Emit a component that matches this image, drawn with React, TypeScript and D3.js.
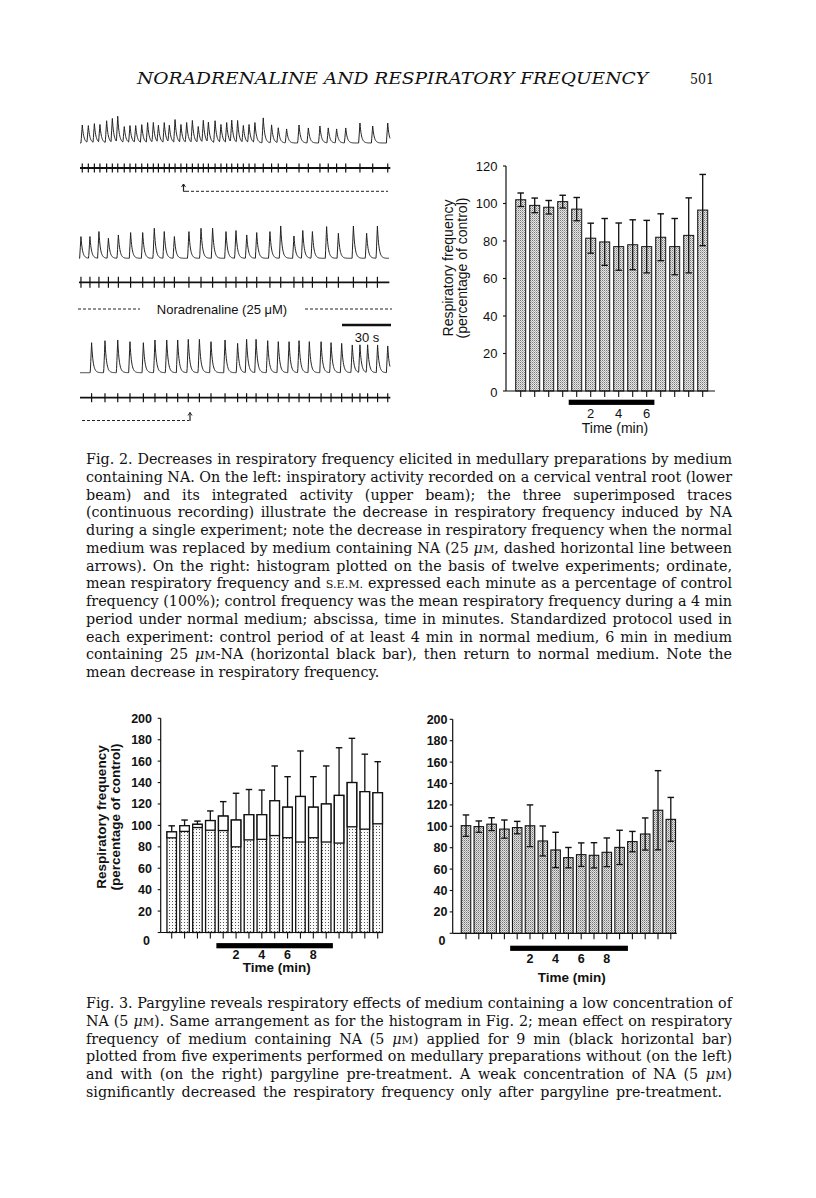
import React, { useLayoutEffect, useRef, useState } from 'react';
import * as d3 from 'd3';

// ---------- DATA ----------
// Fig. 2 histogram (12 experiments), one bar per minute, time = index - 3
const fig2Means = [102, 99, 98, 101, 97, 81.5, 79.5, 77, 78, 77, 82, 77, 83, 96.5];
const fig2Sems = [3.6, 3.9, 3.6, 3.4, 6.2, 8, 12.5, 12.6, 13.3, 14, 12.5, 15, 20, 19];
const fig2YTicks = [0, 20, 40, 60, 80, 100, 120];
const fig2TimeLabels = [2, 4, 6];
const fig2NA = [0.43, 6.55];

// Fig. 3 left (without pargyline)
const fig3LeftMeans = [94, 99.7, 101, 104.5, 108.7, 105, 110, 110, 123, 117, 127, 117, 120, 128, 140, 131.5, 130.5];
const fig3LeftSems = [5.6, 5.3, 3, 9, 13.5, 25, 23.5, 23, 32.5, 28.5, 42.5, 28.5, 35.5, 44.5, 41.3, 35, 29];
// Fig. 3 right (with pargyline)
const fig3RightMeans = [100.6, 99.7, 102, 97.4, 98.8, 100.5, 86.3, 77.9, 70.7, 73.5, 72.9, 75.7, 80.3, 85.7, 92.8, 115, 106.5];
const fig3RightSems = [10, 5.3, 6, 8.5, 5.8, 19.5, 14, 16.5, 9.5, 11, 11.8, 13.4, 16, 9.5, 15, 37, 20.5];
const fig3YTicks = [0, 20, 40, 60, 80, 100, 120, 140, 160, 180, 200];
const fig3TimeLabels = [2, 4, 6, 8];
const fig3LeftNA = [0.47, 9.52];
const fig3RightNA = [0.45, 9.65];

// Recordings: burst times (s) and integrated amplitudes
const trace1Times = [1.4, 5.1, 8.8, 12.2, 16.3, 19.8, 23.1, 27.1, 30.6, 34.1, 37.8, 41.4, 44.9, 48.0, 51.6, 54.7, 58.2, 61.8, 65.3, 68.8, 72.4, 75.5, 78.6, 82.7, 86.3, 89.8, 92.9, 96.5, 100.0, 103.5, 107.1, 112.2, 117.3, 121.4, 126.5, 134.1, 139.8, 146.9, 152.0, 157.1, 162.7, 171.4, 179.2, 188.4];
const trace1Amps = [18, 17, 19, 18, 22, 24, 26, 16, 17, 17, 18, 20, 20, 17, 20, 17, 23, 18, 20, 22, 16, 22, 20, 22, 18, 20, 22, 22, 17, 18, 20, 25, 18, 15, 14, 18, 15, 17, 15, 14, 15, 20, 17, 20];
const trace2Times = [1.2, 6.7, 12.2, 18.0, 24.1, 31.6, 39.0, 46.1, 52.2, 58.4, 67.3, 74.7, 81.8, 90.0, 96.1, 102.7, 108.8, 116.9, 123.5, 131.6, 137.0, 142.9, 151.6, 158.8, 168.0, 176.1, 182.7];
const trace2Amps = [21.7, 21.7, 26.7, 20, 23.3, 25.7, 25.7, 30, 26.7, 21.7, 26.7, 30, 30, 26.7, 27.7, 23.3, 25.7, 26.7, 32.3, 22.3, 27.7, 26.7, 31.7, 25, 32.3, 25, 32.3];
const trace3Times = [7.1, 15.3, 23.1, 30.6, 38.8, 45.9, 53.1, 59.8, 66.3, 73.1, 80.2, 88.8, 96.5, 102.0, 107.8, 114.9, 121.4, 128.0, 134.1, 140.4, 147.6, 153.7, 160.2, 166.7, 171.4, 176.1, 182.2, 188.4];
const trace3Amps = [30, 32, 32.7, 31, 30, 32.7, 32.7, 32.7, 33.3, 33.3, 31, 32.7, 29.3, 33.3, 33.3, 32, 31, 31, 32, 31, 31, 30, 29.3, 27.7, 27.7, 27.7, 27.7, 26.7];
const scaleBarSeconds = 30;

// Texts
const headerTitle = 'NORADRENALINE AND RESPIRATORY FREQUENCY';
const pageNumber = '501';
const fig2Caption = [
  'Fig. 2. Decreases in respiratory frequency elicited in medullary preparations by medium',
  'containing NA. On the left: inspiratory activity recorded on a cervical ventral root (lower',
  'beam) and its integrated activity (upper beam); the three superimposed traces',
  '(continuous recording) illustrate the decrease in respiratory frequency induced by NA',
  'during a single experiment; note the decrease in respiratory frequency when the normal',
  'medium was replaced by medium containing NA (25 {uM}, dashed horizontal line between',
  'arrows). On the right: histogram plotted on the basis of twelve experiments; ordinate,',
  'mean respiratory frequency and {SEM} expressed each minute as a percentage of control',
  'frequency (100%); control frequency was the mean respiratory frequency during a 4 min',
  'period under normal medium; abscissa, time in minutes. Standardized protocol used in',
  'each experiment: control period of at least 4 min in normal medium, 6 min in medium',
  'containing 25 {uM}-NA (horizontal black bar), then return to normal medium. Note the',
  'mean decrease in respiratory frequency.',
];
const fig3Caption = [
  'Fig. 3. Pargyline reveals respiratory effects of medium containing a low concentration of',
  'NA (5 {uM}). Same arrangement as for the histogram in Fig. 2; mean effect on respiratory',
  'frequency of medium containing NA (5 {uM}) applied for 9 min (black horizontal bar)',
  'plotted from five experiments performed on medullary preparations without (on the left)',
  'and with (on the right) pargyline pre-treatment. A weak concentration of NA (5 {uM})',
  'significantly decreased the respiratory frequency only after pargyline pre-treatment.',
];

// ---------- RENDERING ----------
const SANS = '"Liberation Sans", Arial, Helvetica, sans-serif';
const SERIF = '"DejaVu Serif", "Liberation Serif", serif';
const PX_PER_S = 49 / 30;

type ChartCfg = {
  means: number[]; sems: number[]; yMax: number; yTicks: number[];
  yBase: number; yTop: number; x0: number; pitch: number; bw: number;
  axisX: number; axisEnd: number; pattern: string; lowerStyle: 'line' | 'box';
  bold: boolean; na: number[]; naY: number; timeLabels: number[]; labelY: number;
  titleX: number; titleY: number; labelEnd: number; zeroDy: number; zeroDx: number;
  tickFont: number; titleFont: number;
  yTitle?: { x1: number; x2: number; cy: number };
  strokeW: number;
};

function BarChart({ c }: { c: ChartCfg }) {
  const y = d3.scaleLinear().domain([0, c.yMax]).range([c.yBase, c.yTop]);
  const x = d3.scaleLinear().domain([-3, -2]).range([c.x0, c.x0 + c.pitch]);
  const fw = c.bold ? 'bold' : 'normal';
  const capW = 6.5;
  return (
    <g fontFamily={SANS} fill="#111">
      {c.means.map((m, i) => {
        const t = i - 3;
        const cx = x(t);
        const s = c.sems[i];
        return (
          <g key={i}>
            <rect x={cx - c.bw / 2} y={y(m)} width={c.bw} height={c.yBase - y(m)}
              fill={`url(#${c.pattern})`} stroke="#111" strokeWidth={c.strokeW} />
            {c.lowerStyle === 'box' ? (
              <rect x={cx - c.bw / 2} y={y(m)} width={c.bw} height={y(m - s) - y(m)}
                fill="#fff" stroke="#111" strokeWidth={c.strokeW} />
            ) : (
              <>
                <line x1={cx} x2={cx} y1={y(m)} y2={y(m - s)} stroke="#111" strokeWidth={1.3} />
                <line x1={cx - capW / 2} x2={cx + capW / 2} y1={y(m - s)} y2={y(m - s)} stroke="#111" strokeWidth={1.3} />
              </>
            )}
            <line x1={cx} x2={cx} y1={y(m)} y2={y(m + s)} stroke="#111" strokeWidth={1.3} />
            <line x1={cx - capW / 2} x2={cx + capW / 2} y1={y(m + s)} y2={y(m + s)} stroke="#111" strokeWidth={1.4} />
            <line x1={cx} x2={cx} y1={c.yBase} y2={c.yBase + 6} stroke="#111" strokeWidth={1.1} />
          </g>
        );
      })}
      <line x1={c.axisX} x2={c.axisX} y1={c.yBase} y2={c.yTop} stroke="#111" strokeWidth={1.2} />
      <line x1={c.axisX} x2={c.axisEnd} y1={c.yBase} y2={c.yBase} stroke="#111" strokeWidth={1.2} />
      {c.yTicks.map((v) => (
        <g key={v}>
          <line x1={c.axisX - 3} x2={c.axisX} y1={y(v)} y2={y(v)} stroke="#111" strokeWidth={1.1} />
          <text x={v === 0 ? c.labelEnd - c.zeroDx : c.labelEnd} y={y(v) + (v === 0 ? c.zeroDy : 0)} dy="0.36em"
            textAnchor="end" fontSize={c.tickFont} fontWeight={fw}>{v}</text>
        </g>
      ))}
      <rect x={x(c.na[0])} y={c.naY - 2.6} width={x(c.na[1]) - x(c.na[0])} height={5.2} fill="#000" />
      {c.timeLabels.map((t) => (
        <text key={t} x={x(t)} y={c.labelY} textAnchor="middle" fontSize={c.tickFont} fontWeight={fw}>{t}</text>
      ))}
      <text x={c.titleX} y={c.titleY} textAnchor="middle" fontSize={c.titleFont} fontWeight={fw}>Time (min)</text>
      {c.yTitle && (
        <g fontSize={c.titleFont} fontWeight={fw}>
          <text transform={`translate(${c.yTitle.x1},${c.yTitle.cy}) rotate(-90)`} textAnchor="middle">Respiratory frequency</text>
          <text transform={`translate(${c.yTitle.x2},${c.yTitle.cy}) rotate(-90)`} textAnchor="middle">(percentage of control)</text>
        </g>
      )}
    </g>
  );
}

function Trace({ times, amps, x0, baseY, neuroY, tickH, neuroW }:
  { times: number[]; amps: number[]; x0: number; baseY: number; neuroY: number; tickH: number; neuroW: number }) {
  const dur = 190;
  const xs = d3.scaleLinear().domain([0, dur]).range([x0, x0 + dur * PX_PER_S]);
  const grid: number[] = d3.range(0, dur, 0.2).concat(times).sort((a, b) => a - b);
  const pts: [number, number][] = grid.map((t) => {
    let v = 0;
    times.forEach((ti, i) => {
      const d = t - ti;
      if (d >= -0.8 && d < 0) v += amps[i] * (1 + d / 0.8);
      else if (d >= 0 && d < 10) v += amps[i] * Math.exp(-d / 0.95);
    });
    return [xs(t), baseY - v];
  });
  const path = d3.line()(pts) || '';
  return (
    <g>
      <path d={path} fill="none" stroke="#222" strokeWidth={1} />
      <line x1={xs(0)} x2={xs(dur)} y1={neuroY} y2={neuroY} stroke="#111" strokeWidth={neuroW} />
      {times.map((t, i) => (
        <line key={i} x1={xs(t)} x2={xs(t)} y1={neuroY - tickH} y2={neuroY + tickH} stroke="#111" strokeWidth={1.2} />
      ))}
    </g>
  );
}

function JustLine({ s, x, y, target, size }: { s: string; x: number; y: number; target?: number; size: number }) {
  const ref = useRef<SVGTextElement>(null);
  const [ws, setWs] = useState(0);
  useLayoutEffect(() => {
    if (!ref.current || target === undefined) return;
    const natural = ref.current.getComputedTextLength();
    const spaces = (s.match(/ /g) || []).length;
    if (spaces > 0) setWs((target - natural) / spaces);
  }, [s, target]);
  const parts = s.split(/(\{uM\}|\{SEM\})/);
  return (
    <text ref={ref} x={x} y={y} fontSize={size} style={{ wordSpacing: `${ws}px` }}>
      {parts.map((p, i) => {
        if (p === '{uM}') return <tspan key={i}><tspan fontStyle="italic">μ</tspan><tspan fontSize={size * 0.78}>M</tspan></tspan>;
        if (p === '{SEM}') return <tspan key={i} fontSize={size * 0.78}>S.E.M.</tspan>;
        return <tspan key={i}>{p}</tspan>;
      })}
    </text>
  );
}

export default function App() {
  const top: ChartCfg = {
    means: fig2Means, sems: fig2Sems, yMax: 120, yTicks: fig2YTicks, yBase: 391, yTop: 166,
    x0: 520.7, pitch: 14, bw: 10, axisX: 506, axisEnd: 715, pattern: 'patTop', lowerStyle: 'line',
    bold: false, na: fig2NA, naY: 402.3, timeLabels: fig2TimeLabels, labelY: 418, titleX: 615, titleY: 433,
    labelEnd: 497.5, zeroDy: 1.5, zeroDx: 0, tickFont: 13, titleFont: 14,
    yTitle: { x1: 453, x2: 467, cy: 268 }, strokeW: 1,
  };
  const bl: ChartCfg = {
    means: fig3LeftMeans, sems: fig3LeftSems, yMax: 200, yTicks: fig3YTicks, yBase: 932.5, yTop: 718.3,
    x0: 171.7, pitch: 12.875, bw: 9.5, axisX: 160.7, axisEnd: 383, pattern: 'patBL', lowerStyle: 'box',
    bold: true, na: fig3LeftNA, naY: 945.7, timeLabels: fig3TimeLabels, labelY: 958.5, titleX: 276.7, titleY: 972,
    labelEnd: 152, zeroDy: 7.5, zeroDx: 2, tickFont: 12.5, titleFont: 13.5,
    yTitle: { x1: 106, x2: 120, cy: 817 }, strokeW: 1.3,
  };
  const br: ChartCfg = {
    means: fig3RightMeans, sems: fig3RightSems, yMax: 200, yTicks: fig3YTicks, yBase: 933.3, yTop: 719.3,
    x0: 466, pitch: 12.8, bw: 9.5, axisX: 452.7, axisEnd: 676.7, pattern: 'patBR', lowerStyle: 'line',
    bold: true, na: fig3RightNA, naY: 948.3, timeLabels: fig3TimeLabels, labelY: 962.5, titleX: 571.7, titleY: 981.5,
    labelEnd: 447.5, zeroDy: 7.5, zeroDx: 2, tickFont: 12.5, titleFont: 13.5, strokeW: 1.1,
  };
  const capX = 86;
  const capSize = 14.3;
  return (
    <svg width={816} height={1198} style={{ position: 'absolute', left: 0, top: 0, background: '#fff' }}>
      <defs>
        <pattern id="patTop" width={2} height={2} patternUnits="userSpaceOnUse">
          <rect width={2} height={2} fill="#e6e6e6" />
          <rect width={1} height={1} fill="#7a7a7a" />
          <rect x={1} y={1} width={1} height={1} fill="#b0b0b0" />
        </pattern>
        <pattern id="patBR" width={2} height={2} patternUnits="userSpaceOnUse">
          <rect width={2} height={2} fill="#e2e2e2" />
          <rect width={1} height={1} fill="#727272" />
          <rect x={1} y={1} width={1} height={1} fill="#a8a8a8" />
        </pattern>
        <pattern id="patBL" width={3} height={3} patternUnits="userSpaceOnUse">
          <rect width={3} height={3} fill="#fafafa" />
          <rect x={1} y={1} width={1} height={1} fill="#555" />
        </pattern>
      </defs>
      <rect width={816} height={1198} fill="#fff" />

      {/* header */}
      <text x={137} y={84} fontFamily={SERIF} fontStyle="italic" fontSize={16} textLength={511} lengthAdjust="spacingAndGlyphs" fill="#111">{headerTitle}</text>
      <text x={690} y={84} fontFamily={SERIF} fontSize={15} textLength={24} lengthAdjust="spacingAndGlyphs" fill="#111">{pageNumber}</text>

      {/* recordings */}
      <g>
        <Trace times={trace1Times} amps={trace1Amps} x0={80} baseY={143} neuroY={168} tickH={4.5} neuroW={2} />
        <line x1={186} x2={388} y1={191.3} y2={191.3} stroke="#222" strokeWidth={1} strokeDasharray="3 2" />
        <line x1={183.5} x2={183.5} y1={191.5} y2={184} stroke="#222" strokeWidth={1.2} />
        <path d="M181.5,187 L183.5,184 L185.5,187" fill="none" stroke="#222" strokeWidth={1} />
        <line x1={183.5} x2={186} y1={191.3} y2={191.3} stroke="#222" strokeWidth={1} />

        <Trace times={trace2Times} amps={trace2Amps} x0={79} baseY={258.3} neuroY={282.3} tickH={5.5} neuroW={1.8} />
        <line x1={78} x2={140} y1={309} y2={309} stroke="#222" strokeWidth={1} strokeDasharray="3 2" />
        <line x1={305} x2={392} y1={309} y2={309} stroke="#222" strokeWidth={1} strokeDasharray="3 2" />
        <text x={222} y={313.5} textAnchor="middle" fontFamily={SANS} fontSize={13} fill="#111">Noradrenaline (25 μM)</text>

        <line x1={342} x2={342 + scaleBarSeconds * PX_PER_S} y1={325} y2={325} stroke="#111" strokeWidth={2.6} />
        <text x={367} y={341.5} textAnchor="middle" fontFamily={SANS} fontSize={13} fill="#111">{scaleBarSeconds} s</text>

        <Trace times={trace3Times} amps={trace3Amps} x0={80} baseY={372.7} neuroY={397.7} tickH={4.5} neuroW={1.8} />
        <line x1={82} x2={189} y1={420.5} y2={420.5} stroke="#222" strokeWidth={1} strokeDasharray="3 2" />
        <line x1={190} x2={190} y1={421} y2={412.5} stroke="#222" strokeWidth={1.2} />
        <path d="M188,415.5 L190,412.5 L192,415.5" fill="none" stroke="#222" strokeWidth={1} />
      </g>

      <BarChart c={top} />
      <BarChart c={bl} />
      <BarChart c={br} />

      {/* captions */}
      <g fontFamily={SERIF} fill="#111">
        {fig2Caption.map((l, i) => (
          <JustLine key={i} s={l} x={capX} y={464 + i * 17.75} size={capSize}
            target={i === fig2Caption.length - 1 ? undefined : 732 - capX} />
        ))}
        {fig3Caption.map((l, i) => (
          <JustLine key={i} s={l} x={capX} y={1008 + i * 17.8} size={capSize}
            target={i === fig3Caption.length - 1 ? 722 - capX : 732 - capX} />
        ))}
      </g>
    </svg>
  );
}
